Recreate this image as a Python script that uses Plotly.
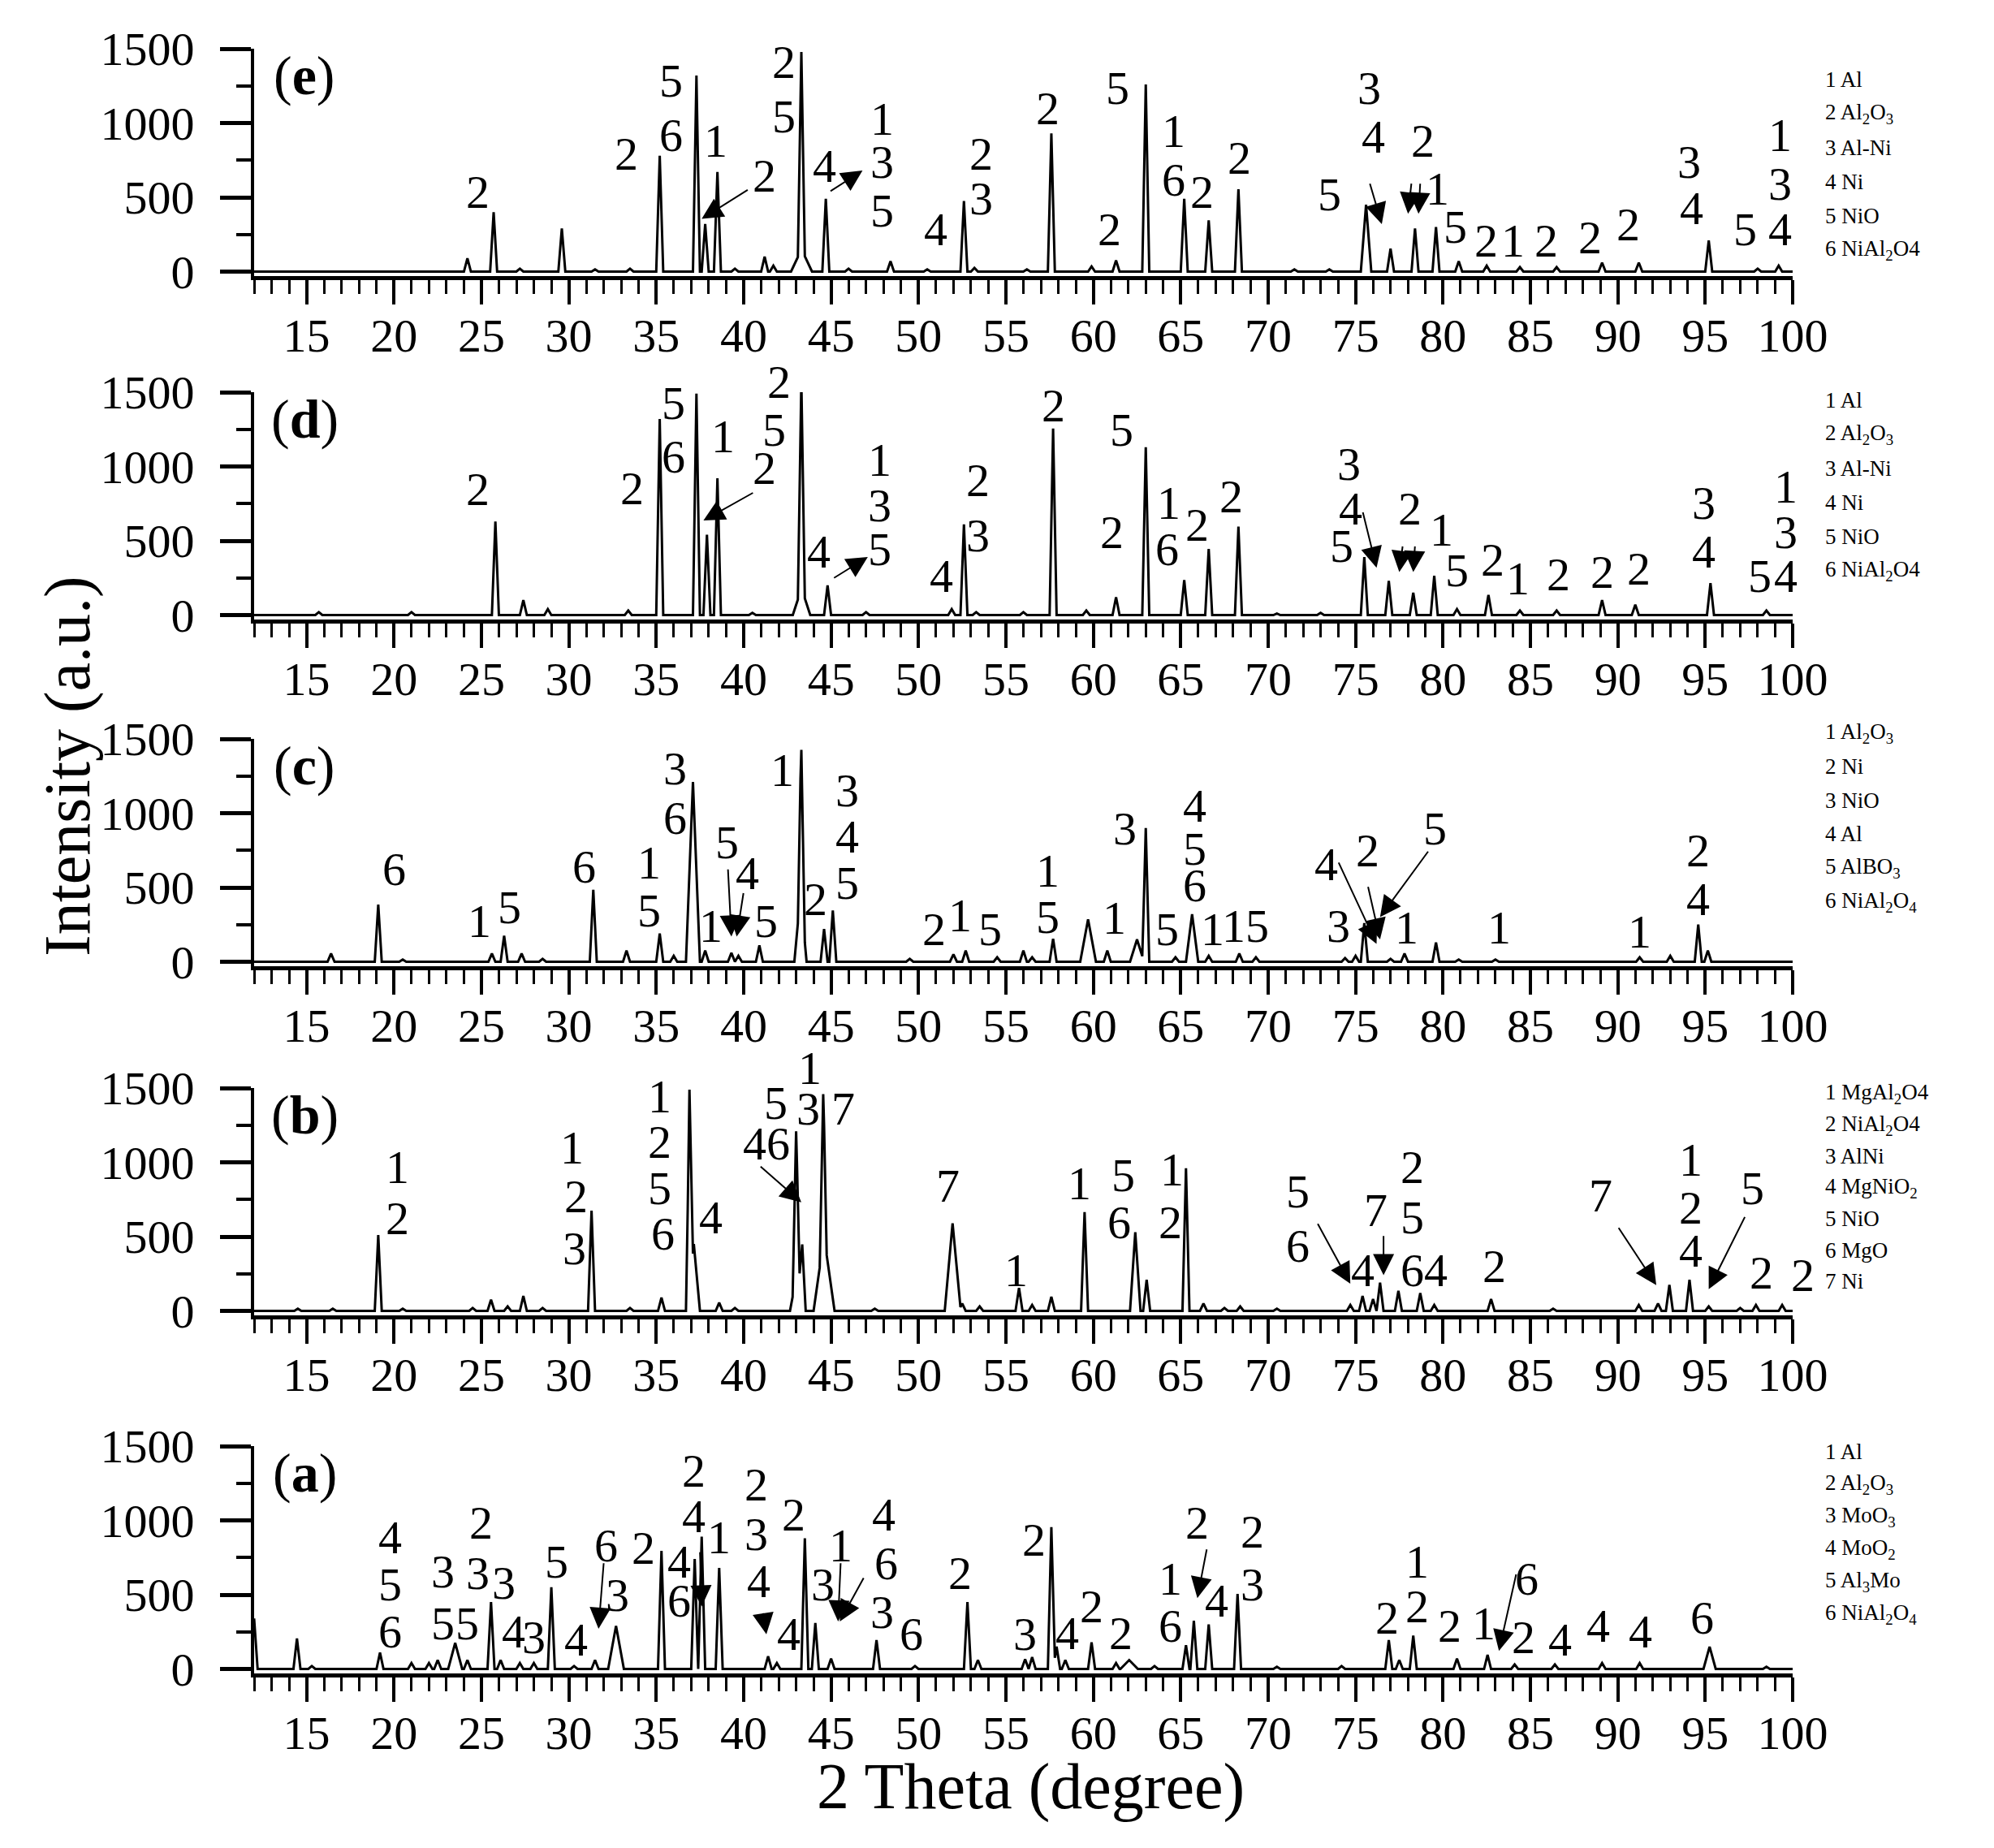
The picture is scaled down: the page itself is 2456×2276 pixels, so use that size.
import plotly.graph_objects as go

# ---------------------------------------------------------------
# XRD patterns (a)-(e): reflection positions (2 theta, degree) and
# intensities (a.u.), plus the phase labels.
# ---------------------------------------------------------------

# panel (e)
e_pos = [24.2, 25.7, 27.2, 29.6, 31.5, 33.5, 35.2, 37.3, 37.8, 38.5, 39.5, 41.2, 41.7,
         43.3, 43.31, 44.7, 46.0, 48.4, 50.5, 52.6, 53.2, 56.2, 57.6, 59.9, 61.3, 63.0,
         65.2, 66.6, 68.3, 71.5, 73.5, 75.6, 77.0, 78.4, 79.6, 80.9, 82.5, 84.4, 86.5,
         89.1, 91.2, 95.2, 98.0, 99.2]
e_int = [90, 400, 20, 290, 15, 20, 780, 1320, 320, 670, 20, 100, 40,
         1330, 150, 490, 20, 70, 15, 475, 25, 15, 930, 35, 75, 1260,
         490, 345, 555, 15, 15, 450, 155, 290, 300, 70, 40, 30, 30,
         60, 60, 210, 20, 40]
e_wide = {43.31: 0.6, 75.6: 0.3}
e_labels = [(24.8, 536, "2"), (33.3, 790, "2"), (35.85, 1282, "5"), (35.85, 918, "6"),
            (38.4, 882, "1"), (41.2, 645, "2"), (42.3, 1409, "2"), (42.3, 1045, "5"),
            (44.6, 709, "4"), (47.9, 1027, "1"), (47.9, 736, "3"), (47.9, 409, "5"),
            (51.0, 282, "4"), (53.6, 790, "2"), (53.6, 490, "3"), (57.4, 1100, "2"),
            (61.4, 1236, "5"), (60.9, 282, "2"), (64.6, 945, "1"), (64.6, 618, "6"),
            (66.2, 536, "2"), (68.35, 764, "2"), (73.5, 518, "5"), (75.8, 1236, "3"),
            (76.0, 909, "4"), (78.85, 882, "2"), (79.7, 555, "1"), (80.7, 300, "5"),
            (82.45, 209, "2"), (84.0, 209, "1"), (85.9, 209, "2"), (88.4, 227, "2"),
            (90.6, 318, "2"), (94.1, 736, "3"), (94.2, 427, "4"), (97.3, 282, "5"),
            (99.3, 282, "4"), (99.3, 918, "1"), (99.3, 591, "3")]
e_arrows = [(40.3, 555, 37.6, 355), (44.9, 536, 46.8, 680), (75.8, 600, 76.5, 320),
            (78.2, 600, 78.0, 390), (78.7, 600, 78.6, 390)]
e_phases = ["1 Al", "2 Al<sub>2</sub>O<sub>3</sub>", "3 Al-Ni", "4 Ni", "5 NiO",
            "6 NiAl<sub>2</sub>O4"]

# panel (d)
d_pos = [15.7, 21.0, 25.8, 27.4, 28.8, 33.4, 35.2, 37.3, 37.9, 38.5, 40.5, 43.3, 43.31,
         44.8, 47.0, 51.9, 52.6, 53.3, 56.0, 57.7, 59.6, 61.3, 63.0, 65.2, 66.6, 68.3,
         70.5, 73.0, 75.5, 76.9, 78.3, 79.5, 80.8, 82.6, 84.4, 86.5, 89.1, 91.0, 95.3, 98.5]
d_int = [20, 20, 630, 100, 40, 30, 1320, 1490, 540, 920, 15, 1400, 180,
         200, 20, 40, 610, 20, 20, 1255, 30, 120, 1130, 235, 445, 595,
         10, 15, 390, 230, 150, 265, 40, 135, 30, 30, 100, 70, 215, 30]
d_wide = {43.31: 0.5}
d_labels = [(24.8, 845, "2"), (33.6, 855, "2"), (36.0, 1427, "5"), (36.0, 1064, "6"),
            (38.8, 1200, "1"), (41.2, 991, "2"), (42.0, 1570, "2"), (41.75, 1245, "5"),
            (44.3, 427, "4"), (47.8, 1045, "1"), (47.8, 736, "3"), (47.8, 445, "5"),
            (51.3, 264, "4"), (53.4, 909, "2"), (53.4, 536, "3"), (57.7, 1409, "2"),
            (61.6, 1245, "5"), (61.05, 555, "2"), (64.3, 755, "1"), (64.2, 445, "6"),
            (65.95, 609, "2"), (67.9, 800, "2"), (74.6, 1018, "3"), (74.7, 718, "4"),
            (74.2, 464, "5"), (78.1, 718, "2"), (79.9, 573, "1"), (80.8, 300, "5"),
            (82.85, 373, "2"), (84.3, 245, "1"), (86.6, 273, "2"), (89.1, 291, "2"),
            (91.2, 309, "2"), (94.9, 755, "3"), (94.9, 427, "4"), (98.1, 264, "5"),
            (99.6, 264, "4"), (99.6, 864, "1"), (99.6, 555, "3")]
d_arrows = [(40.6, 827, 37.7, 636), (45.1, 245, 47.1, 391), (75.4, 700, 76.2, 318),
            (77.7, 470, 77.5, 290), (78.4, 470, 78.3, 290)]
d_phases = e_phases

# panel (c)
c_pos = [16.4, 19.1, 20.5, 25.6, 26.3, 27.3, 28.5, 31.4, 33.3, 35.2, 36.0, 37.1,
         37.8, 39.3, 39.7, 40.9, 43.25, 43.3, 44.6, 45.1, 49.5, 52.0, 52.7, 54.5, 56.0,
         56.5, 57.7, 59.7, 60.8, 62.5, 63.0, 64.7, 65.65, 66.6, 68.35, 69.3, 74.4, 75.0,
         75.5, 77.0, 77.8, 79.6, 80.9, 83.0, 91.25, 93.0, 94.6, 95.15]
c_int = [55, 385, 15, 55, 175, 55, 20, 485, 75, 190, 40, 1210,
         75, 60, 40, 110, 450, 1040, 220, 345, 20, 50, 75, 30, 75,
         30, 155, 285, 75, 150, 900, 30, 320, 40, 55, 30, 25, 40,
         260, 20, 55, 130, 15, 15, 30, 40, 250, 75]
c_wide = {37.1: 0.4, 43.25: 0.35, 59.7: 0.45, 62.5: 0.4, 65.65: 0.35}
c_labels = [(20.0, 622, "6"), (24.9, 274, "1"), (26.6, 366, "5"), (30.9, 640, "6"),
            (34.6, 667, "1"), (34.6, 347, "5"), (36.1, 1298, "3"), (36.1, 969, "6"),
            (42.2, 1289, "1"), (39.05, 804, "5"), (40.2, 594, "4"), (38.1, 238, "1"),
            (41.3, 274, "5"), (44.1, 420, "2"), (45.9, 1152, "3"), (45.9, 841, "4"),
            (45.9, 530, "5"), (50.9, 219, "2"), (52.4, 311, "1"), (54.1, 219, "5"),
            (57.4, 612, "1"), (57.4, 302, "5"), (61.2, 293, "1"), (61.8, 896, "3"),
            (65.8, 1051, "4"), (65.8, 759, "5"), (65.8, 512, "6"), (64.2, 219, "5"),
            (66.8, 219, "1"), (68.7, 238, "15"), (74.0, 238, "3"), (73.3, 658, "4"),
            (75.7, 750, "2"), (79.55, 896, "5"), (77.9, 229, "1"), (83.2, 229, "1"),
            (91.25, 201, "1"), (94.6, 750, "2"), (94.6, 420, "4")]
c_arrows = [(39.1, 630, 39.3, 170), (40.0, 470, 39.6, 170), (74.0, 676, 76.2, 120),
            (75.7, 512, 76.4, 150), (79.2, 750, 76.4, 300)]
c_phases = ["1 Al<sub>2</sub>O<sub>3</sub>", "2 Ni", "3 NiO", "4 Al", "5 AlBO<sub>3</sub>",
            "6 NiAl<sub>2</sub>O<sub>4</sub>"]

# panel (b)
b_pos = [14.5, 16.5, 19.1, 20.5, 24.5, 25.55, 26.5, 27.4, 28.5, 31.3, 33.5, 35.3, 36.9,
         37.15, 38.6, 39.5, 43.0, 43.05, 43.35, 44.55, 44.6, 47.5, 51.95, 52.5, 53.5,
         55.75, 56.5, 57.6, 59.5, 62.4, 63.05, 65.3, 66.3, 67.5, 68.4, 70.5, 74.7, 75.4,
         76.0, 76.4, 77.45, 78.7, 79.5, 82.75, 86.3, 91.2, 92.3, 92.95, 94.1, 95.2, 97.0,
         97.9, 99.4]
b_int = [15, 15, 510, 15, 20, 75, 30, 100, 20, 675, 20, 90, 1360,
         450, 55, 20, 990, 250, 385, 1000, 500, 15, 590, 50, 30,
         155, 40, 95, 665, 530, 210, 960, 50, 20, 30, 15, 40, 100,
         80, 190, 135, 120, 40, 80, 15, 40, 50, 175, 210, 30, 20,
         40, 40]
b_wide = {37.15: 0.35, 43.05: 0.4, 44.6: 0.6, 51.95: 0.45, 62.4: 0.3}
b_labels = [(20.2, 969, "1"), (20.2, 622, "2"), (30.2, 1097, "1"), (30.4, 768, "2"),
            (30.3, 420, "3"), (35.2, 1444, "1"), (35.2, 1134, "2"), (35.2, 823, "5"),
            (35.4, 521, "6"), (38.1, 631, "4"), (41.85, 1398, "5"), (43.8, 1636, "1"),
            (43.7, 1362, "3"), (45.7, 1362, "7"), (41.3, 1124, "46"), (51.7, 841, "7"),
            (55.6, 274, "1"), (59.2, 859, "1"), (61.7, 914, "5"), (61.5, 594, "6"),
            (64.5, 951, "1"), (64.4, 594, "2"), (71.7, 804, "5"), (71.7, 439, "6"),
            (75.4, 274, "4"), (76.15, 676, "7"), (78.25, 969, "2"), (78.25, 631, "5"),
            (78.9, 274, "64"), (82.95, 302, "2"), (89.0, 777, "7"), (94.15, 1015, "1"),
            (94.15, 695, "2"), (94.15, 402, "4"), (97.7, 823, "5"), (98.2, 256, "2"),
            (100.6, 238, "2")]
b_arrows = [(40.9, 978, 43.3, 731), (72.8, 594, 74.7, 183), (76.6, 512, 76.6, 240),
            (90.0, 567, 92.2, 174), (97.3, 640, 95.2, 146)]
b_phases = ["1 MgAl<sub>2</sub>O4", "2 NiAl<sub>2</sub>O4", "3 AlNi", "4 MgNiO<sub>2</sub>",
            "5 NiO", "6 MgO", "7 Ni"]

# panel (a)
a_pos = [12.0, 14.45, 15.3, 19.2, 21.0, 22.0, 22.5, 23.5, 24.2, 25.55, 26.1, 27.2, 28.0,
         29.0, 30.3, 31.5, 32.7, 35.3, 37.2, 37.6, 38.6, 41.4, 41.9, 43.5, 44.1, 45.0,
         47.6, 49.8, 52.8, 53.4, 56.1, 56.5, 57.6, 57.9, 58.4, 59.9, 61.3, 62.05, 63.5,
         65.3, 65.75, 66.6, 68.25, 70.5, 74.2, 76.9, 77.5, 78.3, 80.8, 82.55, 84.1, 86.4,
         89.1, 91.25, 95.25, 98.5]
a_int = [340, 205, 20, 110, 40, 40, 60, 175, 60, 450, 60, 40, 40,
         550, 20, 60, 290, 795, 740, 890, 680, 85, 40, 880, 310, 70,
         195, 20, 450, 60, 65, 80, 955, 150, 60, 180, 40, 60, 20,
         160, 325, 300, 505, 15, 20, 195, 60, 225, 70, 95, 30, 30,
         40, 40, 150, 15]
a_wide = {23.5: 0.4, 32.7: 0.45, 62.05: 0.5, 95.25: 0.35}
a_labels = [(19.8, 888, "4"), (19.8, 570, "5"), (19.8, 252, "6"), (22.8, 654, "3"),
            (22.8, 308, "5"), (25.0, 981, "2"), (24.8, 645, "3"), (24.2, 308, "5"),
            (26.3, 579, "3"), (26.85, 252, "4"), (28.0, 215, "3"), (29.3, 720, "5"),
            (30.4, 196, "4"), (32.15, 832, "6"), (32.8, 495, "3"), (34.25, 813, "2"),
            (37.15, 1336, "2"), (37.15, 1028, "4"), (36.3, 720, "4"), (36.3, 458, "6"),
            (38.6, 888, "1"), (40.7, 1243, "2"), (40.7, 907, "3"), (40.85, 589, "4"),
            (42.6, 234, "4"), (42.85, 1037, "2"), (44.55, 570, "3"), (45.55, 832, "1"),
            (48.0, 1037, "4"), (48.15, 710, "6"), (47.9, 383, "3"), (49.6, 234, "6"),
            (52.4, 645, "2"), (56.1, 234, "3"), (56.6, 869, "2"), (58.5, 243, "4"),
            (59.9, 421, "2"), (61.55, 243, "2"), (64.4, 607, "1"), (64.4, 290, "6"),
            (65.95, 981, "2"), (67.05, 458, "4"), (69.1, 925, "2"), (69.1, 570, "3"),
            (76.8, 346, "2"), (78.5, 421, "2"), (78.5, 720, "1"), (80.4, 290, "2"),
            (82.35, 308, "1"), (84.8, 607, "6"), (84.6, 215, "2"), (86.7, 196, "4"),
            (88.9, 290, "4"), (91.3, 252, "4"), (94.8, 346, "6")]
a_arrows = [(32.0, 720, 31.7, 271), (37.5, 794, 37.6, 421), (41.1, 383, 41.3, 234),
            (45.55, 720, 45.4, 320), (46.9, 620, 45.5, 320), (66.5, 813, 65.95, 477),
            (84.2, 645, 83.2, 121)]
a_phases = ["1 Al", "2 Al<sub>2</sub>O<sub>3</sub>", "3 MoO<sub>3</sub>", "4 MoO<sub>2</sub>",
            "5 Al<sub>3</sub>Mo", "6 NiAl<sub>2</sub>O<sub>4</sub>"]

# ---------------------------------------------------------------
# page geometry (pixels of the 2456 x 2276 picture)
# ---------------------------------------------------------------
W, H = 2456, 2276
PAGE = 8                      # browser body margin
L, R, T, B = 313 - PAGE, 248 + PAGE, 60 - PAGE, 215 + PAGE
X0, X1 = 12, 100
Y0, Y1 = -30, 1500
PANEL_H = 280
PLOT_W = W - L - R
PLOT_H = H - T - B
PX_PER_UNIT = PANEL_H / (Y1 - Y0)
HW = 0.2  # half width of a sharp reflection


def paper_y(py):
    return (H - B + PAGE - py) / PLOT_H


def paper_x(px):
    return (px - PAGE - L) / PLOT_W


def profile(pos, inten, wide):
    # stick pattern -> line, each reflection as a narrow triangle
    hws = [wide.get(p, HW) for p in pos]
    xs = {float(X0), float(X1)}
    for p, w in zip(pos, hws):
        xs.update([p - w, p, p + w])
    xs = sorted(x for x in xs if X0 <= x <= X1)
    ys = [sum(h * max(0.0, 1 - abs(x - p) / w) for p, h, w in zip(pos, inten, hws))
          for x in xs]
    return xs, ys


panels = [
    ("e", 60, 98, 42, e_pos, e_int, e_wide, e_labels, e_arrows, e_phases),
    ("d", 483, 493, 42, d_pos, d_int, d_wide, d_labels, d_arrows, d_phases),
    ("c", 910, 903, 41.5, c_pos, c_int, c_wide, c_labels, c_arrows, c_phases),
    ("b", 1340, 1347, 38.5, b_pos, b_int, b_wide, b_labels, b_arrows, b_phases),
    ("a", 1781, 1788, 40, a_pos, a_int, a_wide, a_labels, a_arrows, a_phases),
]

FONT = "Liberation Serif, Tinos, Times New Roman, Times, Nimbus Roman, serif"
fig = go.Figure()
annotations = []
layout_axes = {}

for i, (name, top, leg_top, leg_gap, pos, inten, wide, labels, arrows, phases) in enumerate(panels):
    n = 5 - i
    sfx = "" if n == 1 else str(n)
    xs, ys = profile(pos, inten, wide)
    fig.add_trace(go.Scatter(x=xs, y=ys, mode="lines", line=dict(color="black", width=3),
                             xaxis="x" + sfx, yaxis="y" + sfx, showlegend=False,
                             hoverinfo="skip"))

    layout_axes["xaxis" + sfx] = dict(
        range=[X0, X1], domain=[0, 1], anchor="y" + sfx, tick0=0, dtick=5,
        ticks="outside", ticklen=30, tickwidth=4, tickcolor="black",
        showline=True, linewidth=5, linecolor="black", showgrid=False, zeroline=False,
        tickfont=dict(size=58, color="black", family=FONT), ticklabelstandoff=-12,
        minor=dict(dtick=1, ticks="outside", ticklen=17, tickwidth=3,
                   tickcolor="black", showgrid=False))
    layout_axes["yaxis" + sfx] = dict(
        range=[Y0, Y1], domain=[paper_y(top + PANEL_H), paper_y(top)], anchor="x" + sfx,
        tick0=0, dtick=500, ticks="outside", ticklen=38, tickwidth=5, tickcolor="black",
        showline=True, linewidth=4, linecolor="black", showgrid=False, zeroline=False,
        tickfont=dict(size=58, color="black", family=FONT), ticklabelstandoff=20,
        minor=dict(dtick=250, ticks="outside", ticklen=18, tickwidth=4,
                   tickcolor="black", showgrid=False))

    xr, yr = "x" + sfx, "y" + sfx
    # panel tag
    annotations.append(dict(x=14.9, y=1320, xref=xr, yref=yr, text=f"(<b>{name}</b>)",
                            showarrow=False, font=dict(size=68)))
    # phase numbers above reflections
    for x, y, t in labels:
        ann = dict(x=min(x, X1), y=min(y, Y1), xref=xr, yref=yr, text=t,
                   showarrow=False, font=dict(size=58))
        if y > Y1:
            ann["yshift"] = (y - Y1) * PX_PER_UNIT
        if x > X1:
            ann["xshift"] = (x - X1) * PLOT_W / (X1 - X0)
        annotations.append(ann)
    # pointer arrows
    for tx, ty, hx, hy in arrows:
        annotations.append(dict(x=hx, y=hy, ax=tx, ay=ty, xref=xr, yref=yr,
                                axref=xr, ayref=yr, text="", showarrow=True,
                                arrowhead=2, arrowsize=2.6, arrowwidth=2,
                                arrowcolor="black"))
    # phase key on the right
    for k, ph in enumerate(phases):
        annotations.append(dict(x=paper_x(2246), y=paper_y(leg_top + k * leg_gap),
                                xref="paper", yref="paper", text=ph, showarrow=False,
                                xanchor="left", yanchor="middle", font=dict(size=27)))

annotations.append(dict(x=paper_x(84), y=paper_y(944), xref="paper", yref="paper",
                        xanchor="center", yanchor="middle",
                        text="Intensity (a.u.)", textangle=-90, showarrow=False,
                        font=dict(size=80)))
annotations.append(dict(x=paper_x(1269), y=paper_y(2200), xref="paper", yref="paper",
                        xanchor="center", yanchor="middle",
                        text="2 Theta (degree)", showarrow=False, font=dict(size=80)))

fig.update_layout(
    width=W, height=H,
    margin=dict(l=L, r=R, t=T, b=B),
    paper_bgcolor="white", plot_bgcolor="white",
    font=dict(family=FONT, color="black"),
    annotations=annotations,
    **layout_axes,
)

fig.write_html("out.html")
